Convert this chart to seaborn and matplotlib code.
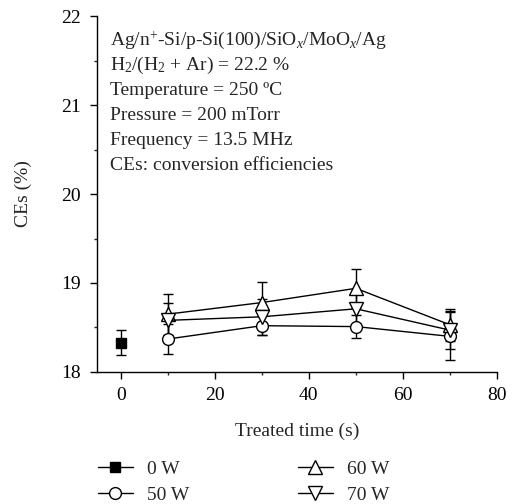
import numpy as np
import pandas as pd
import matplotlib
matplotlib.use("Agg")
import matplotlib.pyplot as plt
import seaborn as sns

# Conversion efficiency vs. hydrogen-plasma treatment time for several RF powers
powers = ["0 W", "50 W", "60 W", "70 W"]
time_0w = [0]
ce_0w = [18.33]
err_0w = [0.14]

time_rf = [10, 30, 50, 70]
ce_50w = [18.37, 18.52, 18.51, 18.40]
err_50w = [0.17, 0.11, 0.13, 0.27]
ce_60w = [18.65, 18.78, 18.94, 18.53]
err_60w = [0.23, 0.23, 0.22, 0.18]
ce_70w = [18.58, 18.62, 18.71, 18.47]
err_70w = [0.20, 0.20, 0.20, 0.21]

x_ticks = [0, 20, 40, 60, 80]
y_ticks = [18, 19, 20, 21, 22]

info_lines = [
    r"Ag/n$^{+}$-Si/p-Si(100)/SiO$_{x}$/MoO$_{x}$/Ag",
    r"H$_{2}$/(H$_{2}$ + Ar) = 22.2 %",
    "Temperature = 250 ºC",
    "Pressure = 200 mTorr",
    "Frequency = 13.5 MHz",
    "CEs: conversion efficiencies",
]

sns.set_style("ticks")
plt.rcParams["font.family"] = ["Liberation Serif", "DejaVu Serif"]
plt.rcParams["mathtext.fontset"] = "custom"
plt.rcParams["mathtext.rm"] = "Liberation Serif"
plt.rcParams["mathtext.it"] = "Liberation Serif:italic"
plt.rcParams["axes.linewidth"] = 1.0

FS = 14

df = pd.concat([
    pd.DataFrame({"time": time_0w, "ce": ce_0w, "err": err_0w, "power": powers[0]}),
    pd.DataFrame({"time": time_rf, "ce": ce_50w, "err": err_50w, "power": powers[1]}),
    pd.DataFrame({"time": time_rf, "ce": ce_60w, "err": err_60w, "power": powers[2]}),
    pd.DataFrame({"time": time_rf, "ce": ce_70w, "err": err_70w, "power": powers[3]}),
], ignore_index=True)

fig = plt.figure(figsize=(5.14, 5.04), dpi=100)
ax = fig.add_axes([0.189, 0.262, 0.778, 0.706])

markers = {"0 W": "s", "50 W": "o", "60 W": "^", "70 W": "v"}
faces = {"0 W": "black", "50 W": "white", "60 W": "white", "70 W": "white"}
sizes = {"0 W": 7, "50 W": 8.5, "60 W": 9.5, "70 W": 9.5}

for p in powers:
    sub = df[df["power"] == p]
    ax.errorbar(sub["time"], sub["ce"], yerr=sub["err"], fmt="none",
                ecolor="black", elinewidth=1.0, capsize=3.5, capthick=1.0, zorder=2)

for p in powers:
    sub = df[df["power"] == p]
    sns.lineplot(data=sub, x="time", y="ce", ax=ax, color="black", lw=1.0,
                 marker=markers[p], markersize=sizes[p], markerfacecolor=faces[p],
                 markeredgecolor="black", markeredgewidth=1.0, label=p,
                 legend=False, zorder=3)

ax.set_xlim(-5, 80)
ax.set_ylim(18, 22)
ax.set_xticks(x_ticks)
ax.set_yticks(y_ticks)
ax.set_xticks(np.arange(0, 80, 10), minor=True)
ax.set_yticks(np.arange(18, 22, 0.5), minor=True)
ax.tick_params(axis="both", which="major", length=5, width=1.0, labelsize=FS,
               direction="out", colors="black")
ax.tick_params(axis="x", which="major", pad=6)
ax.tick_params(axis="y", which="major", pad=7)
ax.tick_params(axis="both", which="minor", length=2.5, width=1.0, direction="out")
sns.despine(ax=ax)
ax.spines["left"].set_color("black")
ax.spines["bottom"].set_color("black")

ax.set_xlabel("Treated time (s)", fontsize=FS, labelpad=13)
ax.set_ylabel("CEs (%)", fontsize=FS, labelpad=21)

# annotation block: one line every 25 px, starting near the top of the axes
ax_h_px = 0.706 * 504
for i, line in enumerate(info_lines):
    y = 1 - (29 + 25 * i) / ax_h_px
    ax.text(13 / (0.778 * 514), y, line, transform=ax.transAxes,
            fontsize=FS, va="baseline", ha="left")

handles = [plt.Line2D([], [], color="black", lw=1.0, marker=markers[p],
                      markersize=sizes[p], markerfacecolor=faces[p],
                      markeredgecolor="black") for p in powers]
fig.legend(handles, powers, loc="upper left", bbox_to_anchor=(0.19, 0.087),
           ncol=2, frameon=False, fontsize=FS, handlelength=1.8, borderpad=0,
           borderaxespad=0, columnspacing=5.6, labelspacing=0.45,
           handletextpad=0.72)

fig.savefig("out.png", dpi=100)
